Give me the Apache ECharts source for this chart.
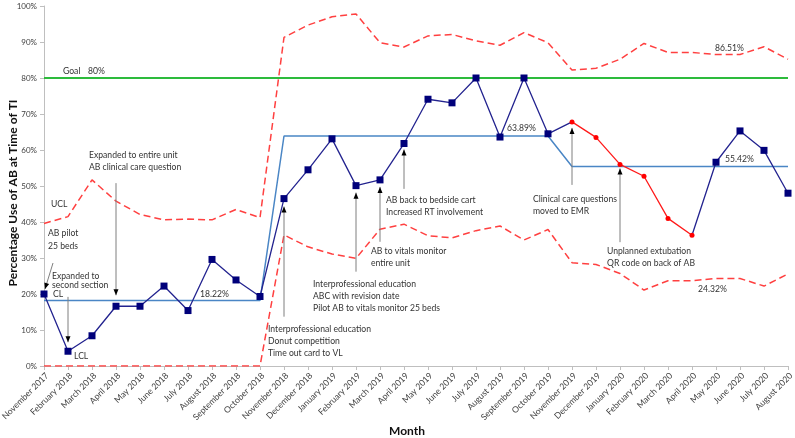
<!DOCTYPE html>
<html><head><meta charset="utf-8">
<script src="https://cdn.jsdelivr.net/npm/echarts@6/dist/echarts.min.js"></script>
<style>html,body{margin:0;padding:0;background:#fff}#c{width:795px;height:438px}</style>
</head><body><div id="c"></div>
<script>
const months = ['November 2017','February 2018','March 2018','April 2018','May 2018','June 2018','July 2018','August 2018','September 2018','October 2018','November 2018','December 2018','January 2019','February 2019','March 2019','April 2019','May 2019','June 2019','July 2019','August 2019','September 2019','October 2019','November 2019','December 2019','January 2020','February 2020','March 2020','April 2020','May 2020','June 2020','July 2020','August 2020'];
const usage = [20.0,4.1,8.4,16.6,16.6,22.2,15.4,29.6,23.9,19.3,46.5,54.5,63.1,50.1,51.7,61.8,74.1,73.1,80.0,63.6,80.0,64.5,67.8,63.5,56.0,52.7,41.0,36.3,56.6,65.3,59.9,48.0];
const shiftStart = 22, shiftEnd = 27; // red (trend) run: November 2019 – April 2020
const centerLine = [18.22,18.22,18.22,18.22,18.22,18.22,18.22,18.22,18.22,18.22,63.89,63.89,63.89,63.89,63.89,63.89,63.89,63.89,63.89,63.89,63.89,63.89,55.42,55.42,55.42,55.42,55.42,55.42,55.42,55.42,55.42,55.42];
const ucl = [39.6,41.5,51.7,45.8,42.1,40.6,40.8,40.6,43.5,41.2,91.3,94.7,97.0,97.8,89.8,88.6,91.7,92.1,90.3,89.1,92.6,89.8,82.2,82.7,85.2,89.6,87.1,87.1,86.51,86.51,88.7,85.2];
const lcl = [0,0,0,0,0,0,0,0,0,0,36.4,33.1,31.1,29.9,38.0,39.4,36.2,35.6,37.6,38.9,35.0,37.9,28.7,28.2,25.7,21.1,23.7,23.7,24.32,24.32,22.2,25.6];
const goal = 80;
const yTicks = [0,10,20,30,40,50,60,70,80,90,100];
const yTitle = 'Percentage Use of AB at Time of TI';
const xTitle = 'Month';

const FONT = 'Lato, "Liberation Sans", sans-serif';
const chart = echarts.init(document.getElementById('c'));

const blueData = usage.map((v,i) => {
  if (i > shiftStart && i < shiftEnd) return null;
  if (i === shiftStart || i === shiftEnd) return {value:v, symbol:'none'};
  return v;
});
const redData = usage.map((v,i) => (i >= shiftStart && i <= shiftEnd) ? v : null);

chart.setOption({
  animation:false,
  backgroundColor:'#fff',
  grid:{left:44, right:7, top:6, bottom:72, containLabel:false, outerBoundsMode:'none'},
  xAxis:{type:'category', data:months, boundaryGap:false,
    axisLine:{lineStyle:{color:'#bfbfbf', width:1}},
    axisTick:{show:true, alignWithLabel:true, length:4, lineStyle:{color:'#bfbfbf'}},
    axisLabel:{rotate:45, interval:0, fontSize:8.6, color:'#404040', fontFamily:FONT, margin:5, verticalAlign:'top'}
  },
  yAxis:{type:'value', min:yTicks[0], max:yTicks[yTicks.length-1], interval:10,
    axisLine:{show:true, lineStyle:{color:'#bfbfbf'}},
    axisTick:{show:true, length:4, lineStyle:{color:'#bfbfbf'}},
    splitLine:{show:false},
    axisLabel:{formatter:'{value}%', fontSize:8, color:'#404040', fontFamily:FONT, margin:7}
  },
  series:[
    {name:'UCL', type:'line', data:ucl, symbol:'none', z:2,
      lineStyle:{color:'#ff4040', width:1.5, type:[7,4]}},
    {name:'LCL', type:'line', data:lcl, symbol:'none', z:2,
      lineStyle:{color:'#ff4040', width:1.5, type:[7,4]}},
    {name:'CL', type:'line', data:centerLine, symbol:'none', z:3,
      lineStyle:{color:'#4a86c5', width:1.5},
      markLine:{silent:true, symbol:'none', label:{show:false},
        lineStyle:{color:'#2dbb3c', width:2, type:'solid'}, data:[{yAxis:goal}]}},
    {name:'Use', type:'line', data:blueData, connectNulls:false, symbol:'rect', symbolSize:7, z:5,
      lineStyle:{color:'#23238f', width:1.3}, itemStyle:{color:'#00007a'}},
    {name:'Trend', type:'line', data:redData, connectNulls:false, symbol:'circle', symbolSize:5, z:6,
      lineStyle:{color:'#ff1a1a', width:1.3}, itemStyle:{color:'#ff0000'}}
  ]
});

// annotations
const texts = [
  {t:'AB pilot\n25 beds', x:48, y:233, lh:12.5},
  {t:'Expanded to\nsecond section', x:52, y:275.5, lh:9.5},
  {t:'Expanded to entire unit\nAB clinical care question', x:89, y:155, lh:11.7},
  {t:'Interprofessional education\nDonut competition\nTime out card to VL', x:268, y:329, lh:11.7},
  {t:'Interprofessional education\nABC with revision date\nPilot AB to vitals monitor 25 beds', x:313, y:284, lh:11.7},
  {t:'AB to vitals monitor\nentire unit', x:371, y:251, lh:11.5},
  {t:'AB back to bedside cart\nIncreased RT involvement', x:386, y:199.5, lh:12.2},
  {t:'Clinical care questions\nmoved to EMR', x:533, y:198.5, lh:12.2},
  {t:'Unplanned extubation\nQR code on back of AB', x:607, y:251, lh:11.7},
  {t:'Goal', x:63, y:71, lh:12},
  {t:goal + '%', x:88, y:71, lh:12},
  {t:'UCL', x:51, y:203.5, lh:12},
  {t:'CL', x:53, y:294, lh:12},
  {t:'LCL', x:74, y:356, lh:12},
  {t:centerLine[0].toFixed(2)+'%', x:200, y:294, lh:12},
  {t:centerLine[10].toFixed(2)+'%', x:507, y:128, lh:12},
  {t:centerLine[22].toFixed(2)+'%', x:725, y:159, lh:12},
  {t:ucl[28].toFixed(2)+'%', x:715, y:47.5, lh:12},
  {t:lcl[28].toFixed(2)+'%', x:698, y:288.5, lh:12}
];
// arrows: category index, start value (%), direction, gap (px) from the data point
const arrows = [
  {cat:1, from:19.2, dir:'down', gap:9},
  {cat:3, from:50.8, dir:'down', gap:11},
  {cat:10, from:13.7, dir:'up', gap:8},
  {cat:13, from:26.2, dir:'up', gap:7},
  {cat:14, from:34.5, dir:'up', gap:7},
  {cat:15, from:49.2, dir:'up', gap:6},
  {cat:22, from:50.3, dir:'up', gap:6},
  {cat:24, from:34.4, dir:'up', gap:4}
];
const g = [];
texts.forEach(a => {
  g.push({type:'text', silent:true, z:20, x:a.x, y:a.y - a.lh/2, scaleX:0.86,
    style:{text:a.t, x:0, y:0, fill:'#333', font:'10px ' + FONT, lineHeight:a.lh, verticalAlign:'top'}});
});
// axis titles
g.push({type:'text', silent:true, z:20, x:13, y:193, rotation:Math.PI/2,
  style:{text:yTitle, x:0, y:0, fill:'#111', font:'bold 12px ' + FONT, align:'center', verticalAlign:'middle'}});
g.push({type:'text', silent:true, z:20, x:407, y:431,
  style:{text:xTitle, x:0, y:0, fill:'#111', font:'bold 12px ' + FONT, align:'center', verticalAlign:'middle'}});

function head(tx, ty, dx, dy) { // tip at (tx,ty), pointing direction (dx,dy)
  const L = 6, W = 2.5;
  const bx = tx - dx*L, by = ty - dy*L;
  return {type:'polygon', silent:true, z:21, shape:{points:[[tx,ty],[bx - dy*W, by + dx*W],[bx + dy*W, by - dx*W]]}, style:{fill:'#000'}};
}
arrows.forEach(a => {
  const p = chart.convertToPixel({gridIndex:0}, [a.cat, usage[a.cat]]);
  const s = chart.convertToPixel({gridIndex:0}, [a.cat, a.from]);
  const tipY = a.dir === 'down' ? p[1] - a.gap : p[1] + a.gap;
  g.push({type:'line', silent:true, z:20, shape:{x1:p[0], y1:s[1], x2:p[0], y2:tipY}, style:{stroke:'#7f7f7f', lineWidth:1}});
  g.push(head(p[0], tipY, 0, a.dir === 'down' ? 1 : -1));
});
// diagonal arrow to the first point ("AB pilot")
(function(){
  const p = chart.convertToPixel({gridIndex:0}, [0, usage[0]]);
  const tx = p[0] + 1, ty = p[1] - 5, sx = tx + 8, sy = ty - 26;
  const len = Math.hypot(tx-sx, ty-sy);
  g.push({type:'line', silent:true, z:20, shape:{x1:sx, y1:sy, x2:tx, y2:ty}, style:{stroke:'#7f7f7f', lineWidth:1}});
  g.push(head(tx, ty, (tx-sx)/len, (ty-sy)/len));
})();
chart.setOption({graphic:g});
</script>
</body></html>
